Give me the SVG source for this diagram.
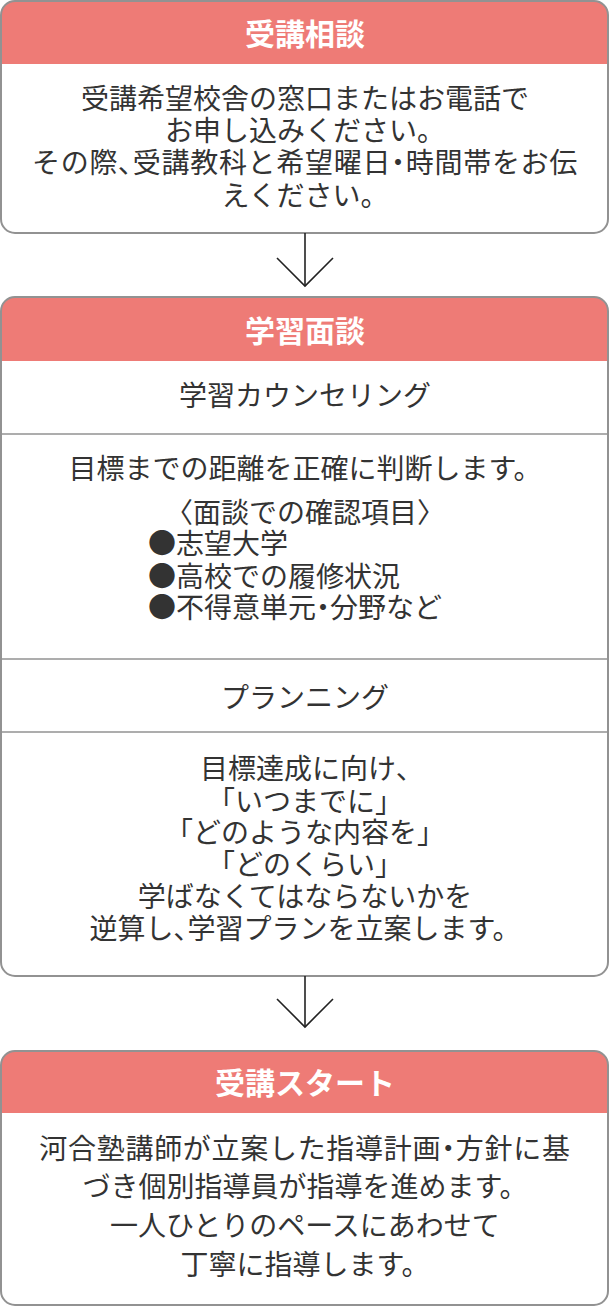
<svg xmlns="http://www.w3.org/2000/svg" width="610" height="1307" viewBox="0 0 610 1307">
<style>
.bg{fill:#ffffff;stroke:none}
.hd{fill:#EE7B76;stroke:none}
.bd{fill:none;stroke:#929292;stroke-width:2}
.dv{stroke:#929292;stroke-width:1.5}
.ht{font-family:"Noto Sans CJK JP","Noto Sans",sans-serif;font-size:30px;font-weight:bold;fill:#ffffff;text-anchor:middle}
.tx{font-family:"Noto Sans CJK JP","Noto Sans",sans-serif;font-size:28px;fill:#333333;text-anchor:middle}
.tl{text-anchor:start}
.ls{letter-spacing:0.7px}
.p{font-feature-settings:"palt" 1}
.ar{fill:none;stroke:#222222;stroke-width:1.6}
</style>
<rect width="610" height="1307" fill="#ffffff"/>
<g id="node-jukou-soudan">
<rect class="bg" x="1" y="1" width="607" height="232" rx="14"/>
<path class="hd" d="M1,64 V15 A14,14 0 0 1 15,1 H594 A14,14 0 0 1 608,15 V64 Z"/>
<rect class="bd" x="1" y="1" width="607" height="232" rx="14"/>
<text class="ht" x="305" y="44.5">受講相談</text>
<text class="tx" x="305" y="109">受講希望校舎の窓口またはお電話で</text>
<text class="tx" x="305" y="141">お申し込みください。</text>
<text class="tx ls" x="305" y="173">その際<tspan class="p">、</tspan>受講教科と希望曜日<tspan class="p">・</tspan>時間帯をお伝</text>
<text class="tx" x="305" y="205.5">えください。</text>
</g>
<g id="node-gakushu-mendan">
<rect class="bg" x="1" y="297" width="607" height="679" rx="14"/>
<path class="hd" d="M1,361 V311 A14,14 0 0 1 15,297 H594 A14,14 0 0 1 608,311 V361 Z"/>
<line class="dv" x1="1" y1="434" x2="608" y2="434"/>
<line class="dv" x1="1" y1="659" x2="608" y2="659"/>
<line class="dv" x1="1" y1="732" x2="608" y2="732"/>
<rect class="bd" x="1" y="297" width="607" height="679" rx="14"/>
<text class="ht" x="305" y="342">学習面談</text>
<text class="tx" x="305" y="405.5">学習カウンセリング</text>
<text class="tx" x="305" y="479">目標までの距離を正確に判断します。</text>
<text class="tx" x="305" y="522.5">〈面談での確認項目〉</text>
<text class="tx tl" x="148" y="554">●志望大学</text>
<text class="tx tl" x="148" y="586.5">●高校での履修状況</text>
<text class="tx tl" x="148" y="618">●不得意単元<tspan class="p">・</tspan>分野など</text>
<text class="tx" x="305" y="707.5">プランニング</text>
<text class="tx" x="305" y="778.5">目標達成に向け<tspan class="p">、</tspan></text>
<text class="tx" x="305" y="811.5">「いつまでに」</text>
<text class="tx" x="305" y="843">「どのような内容を」</text>
<text class="tx" x="305" y="875">「どのくらい」</text>
<text class="tx" x="305" y="907">学ばなくてはならないかを</text>
<text class="tx" x="305" y="939">逆算し<tspan class="p">、</tspan>学習プランを立案します。</text>
</g>
<g id="node-jukou-start">
<rect class="bg" x="1" y="1051" width="607" height="254" rx="14"/>
<path class="hd" d="M1,1113 V1065 A14,14 0 0 1 15,1051 H594 A14,14 0 0 1 608,1065 V1113 Z"/>
<rect class="bd" x="1" y="1051" width="607" height="254" rx="14"/>
<text class="ht" x="305" y="1094">受講スタート</text>
<text class="tx ls" x="305" y="1158.5">河合塾講師が立案した指導計画<tspan class="p">・</tspan>方針に基</text>
<text class="tx" x="305" y="1196.5">づき個別指導員が指導を進めます。</text>
<text class="tx" x="305" y="1235.5">一人ひとりのペースにあわせて</text>
<text class="tx" x="305" y="1274.5">丁寧に指導します。</text>
</g>
<g id="connectors">
<line class="ar" x1="305" y1="233" x2="305" y2="285"/>
<polyline class="ar" points="277,258 305,286 333,258"/>
<line class="ar" x1="305" y1="976" x2="305" y2="1027"/>
<polyline class="ar" points="277,999 305,1027 333,999"/>
</g>
</svg>
